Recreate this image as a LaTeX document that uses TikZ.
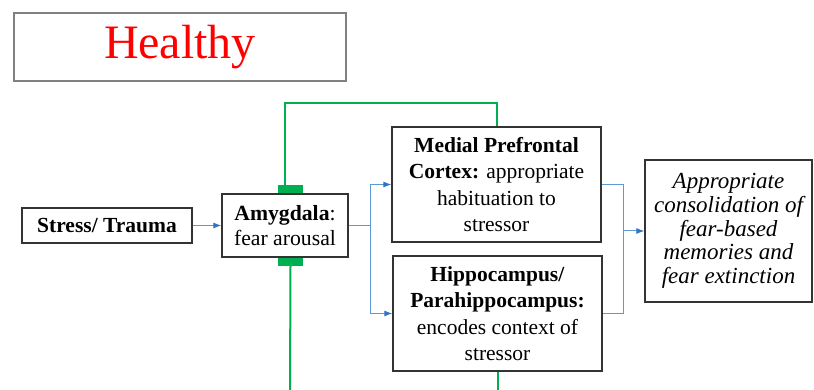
\documentclass[tikz,border=0pt]{standalone}
\usepackage{fontspec}
\setmainfont{Liberation Serif}
\usetikzlibrary{arrows.meta}
\definecolor{linkblue}{RGB}{91,155,213}
\definecolor{tipblue}{RGB}{46,117,200}
\definecolor{inhibgreen}{RGB}{0,176,80}

\begin{document}
\begin{tikzpicture}[x=1pt, y=-1pt,
    box/.style = {draw=black!80, line width=1.2pt, align=center, inner sep=2pt},
    link/.style = {draw=linkblue, line width=1pt, -{Latex[length=8pt,width=6pt,color=tipblue]}},
    plainlink/.style = {draw=linkblue, line width=1pt},
    inhib/.style = {draw=inhibgreen, line width=2pt},
    bar/.style = {fill=inhibgreen, minimum width=25pt, minimum height=8pt, inner sep=0pt}]
                \useasboundingbox (0, 0) rectangle (814, 390);

                \node[box, draw=black!50, minimum width=332pt, minimum height=68pt,
                      text=red, font=\fontsize{48}{54}\selectfont] at (180, 47) (title) {Healthy};
                \node[box, minimum width=170pt, minimum height=35pt,
                      font=\fontsize{21.5}{25}\selectfont\bfseries] at (107, 225.5) (stress) {Stress/ Trauma};
                \node[box, minimum width=126pt, minimum height=63pt,
                      font=\fontsize{21.7}{25}\selectfont] at (285, 225.5) (amyg) {\textbf{Amygdala}:\\fear arousal};
                \node[box, minimum width=209pt, minimum height=115pt,
                      font=\fontsize{21.5}{26.5}\selectfont] at (496.5, 184.5) (mpfc)
                      {\textbf{Medial Prefrontal}\\\textbf{Cortex:} appropriate\\habituation to\\stressor};
                \node[box, minimum width=209pt, minimum height=115pt,
                      font=\fontsize{21.5}{26.5}\selectfont] at (497.5, 313.5) (hippo)
                      {\textbf{Hippocampus/}\\\textbf{Parahippocampus:}\\encodes context of\\stressor};
                \node[box, minimum width=167pt, minimum height=142pt,
                      font=\fontsize{23}{23.7}\selectfont\itshape] at (728.5, 231) (outcome)
                      {Appropriate\\consolidation of\\fear-based\\memories and\\fear extinction};

                \node[bar, anchor=south] at ([xshift=5.5pt]amyg.north) (amygtop) {};
                \node[bar, anchor=north] at ([xshift=5.5pt]amyg.south) (amygbot) {};
                \coordinate (amygend) at (290, 390);

                \draw[link] (stress) -- (amyg);
                \draw[plainlink] (amyg.east) -- ++(22, 0) coordinate (split);
                \draw[link] (split) |- (mpfc.west);
                \draw[link] (split) |- (hippo.west);
                \draw[plainlink] (mpfc.east) -- ++(22, 0) coordinate (merge) |- (hippo.east);
                \draw[link] (merge |- outcome.west) -- (outcome.west);

                \draw[inhib] ([xshift=-6pt]amygtop.north) -- ++(0, -82) -| (mpfc.north);
                \draw[inhib] (amygbot.south) -- (amygend);
                \draw[inhib] (hippo.south) -- (hippo.south |- amygend);
            \end{tikzpicture}
\end{document}
